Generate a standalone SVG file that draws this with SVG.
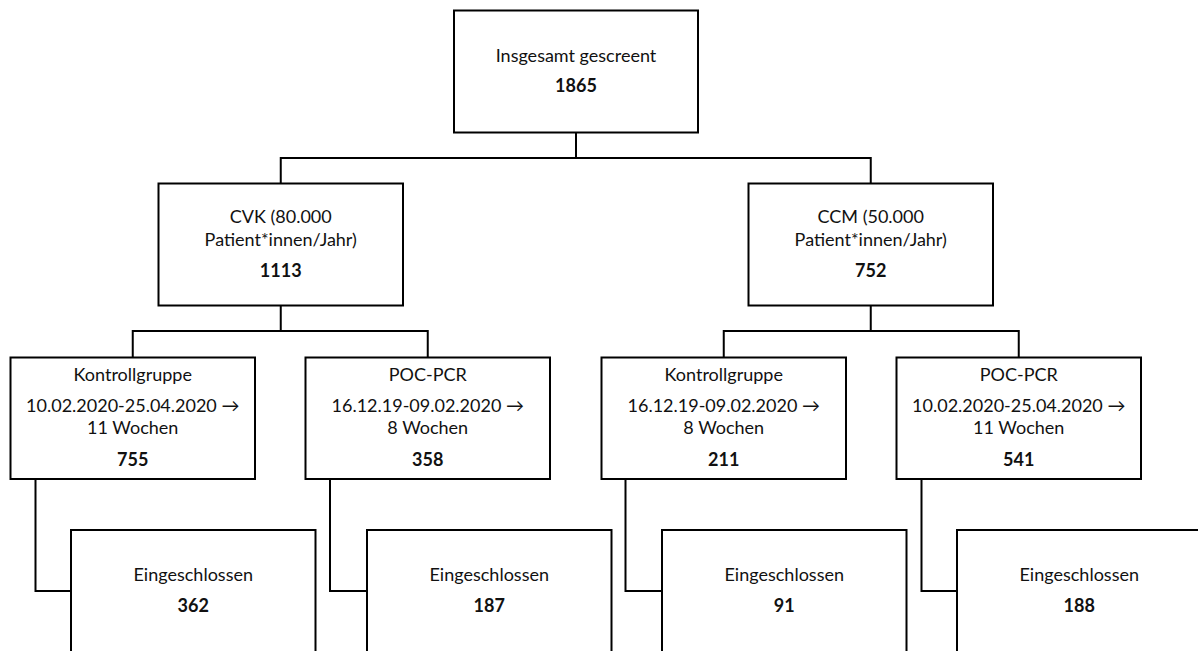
<svg xmlns="http://www.w3.org/2000/svg" width="1198" height="651" viewBox="0 0 1198 651">
<style>
.box{fill:#fff;stroke:#000;stroke-width:2}
.con{fill:none;stroke:#000;stroke-width:2}
text{font-family:Lato,"Liberation Sans","DejaVu Sans",sans-serif;font-size:18px;fill:#111;text-anchor:middle}
.b{font-weight:bold}
</style>
<rect width="1198" height="651" fill="#fff"/>
<g id="connectors">
<path class="con" d="M576,132.5V158M280.75,183.5V158H870.75V183.5"/>
<path class="con" d="M280.75,305.5V331M132.75,357.5V331H427.75V357.5"/>
<path class="con" d="M870.75,305.5V331M723.75,357.5V331H1018.75V357.5"/>
<path class="con" d="M35.5,479V591H71M330,479V591H367M625.5,479V591H662M921.5,479V591H957"/>
</g>
<g id="top">
<rect class="box" x="454" y="10.5" width="244" height="122"/>
<text x="576" y="62">Insgesamt gescreent</text>
<text class="b" x="576" y="92">1865</text>
</g>
<g id="cvk">
<rect class="box" x="158.5" y="183.5" width="244.5" height="122"/>
<text x="280.75" y="223">CVK (80.000</text>
<text x="280.75" y="246">Patient*innen/Jahr)</text>
<text class="b" x="280.75" y="276.5">1113</text>
</g>
<g id="ccm">
<rect class="box" x="748.5" y="183.5" width="244.5" height="122"/>
<text x="870.75" y="223">CCM (50.000</text>
<text x="870.75" y="246">Patient*innen/Jahr)</text>
<text class="b" x="870.75" y="276.5">752</text>
</g>
<g id="cvk-kontroll">
<rect class="box" x="10.5" y="357.5" width="244.5" height="121.5"/>
<text x="132.75" y="381">Kontrollgruppe</text>
<text x="132.75" y="412">10.02.2020-25.04.2020 →</text>
<text x="132.75" y="434">11 Wochen</text>
<text class="b" x="132.75" y="466">755</text>
</g>
<g id="cvk-poc">
<rect class="box" x="305.5" y="357.5" width="244.5" height="121.5"/>
<text x="427.75" y="381">POC-PCR</text>
<text x="427.75" y="412">16.12.19-09.02.2020 →</text>
<text x="427.75" y="434">8 Wochen</text>
<text class="b" x="427.75" y="466">358</text>
</g>
<g id="ccm-kontroll">
<rect class="box" x="601.5" y="357.5" width="244.5" height="121.5"/>
<text x="723.75" y="381">Kontrollgruppe</text>
<text x="723.75" y="412">16.12.19-09.02.2020 →</text>
<text x="723.75" y="434">8 Wochen</text>
<text class="b" x="723.75" y="466">211</text>
</g>
<g id="ccm-poc">
<rect class="box" x="896.5" y="357.5" width="244.5" height="121.5"/>
<text x="1018.75" y="381">POC-PCR</text>
<text x="1018.75" y="412">10.02.2020-25.04.2020 →</text>
<text x="1018.75" y="434">11 Wochen</text>
<text class="b" x="1018.75" y="466">541</text>
</g>
<g id="incl1">
<rect class="box" x="71" y="530" width="244.5" height="130"/>
<text x="193.25" y="581">Eingeschlossen</text>
<text class="b" x="193.25" y="612">362</text>
</g>
<g id="incl2">
<rect class="box" x="367" y="530" width="244.5" height="130"/>
<text x="489.25" y="581">Eingeschlossen</text>
<text class="b" x="489.25" y="612">187</text>
</g>
<g id="incl3">
<rect class="box" x="662" y="530" width="244.5" height="130"/>
<text x="784.25" y="581">Eingeschlossen</text>
<text class="b" x="784.25" y="612">91</text>
</g>
<g id="incl4">
<rect class="box" x="957" y="530" width="244.5" height="130"/>
<text x="1079.25" y="581">Eingeschlossen</text>
<text class="b" x="1079.25" y="612">188</text>
</g>
</svg>
